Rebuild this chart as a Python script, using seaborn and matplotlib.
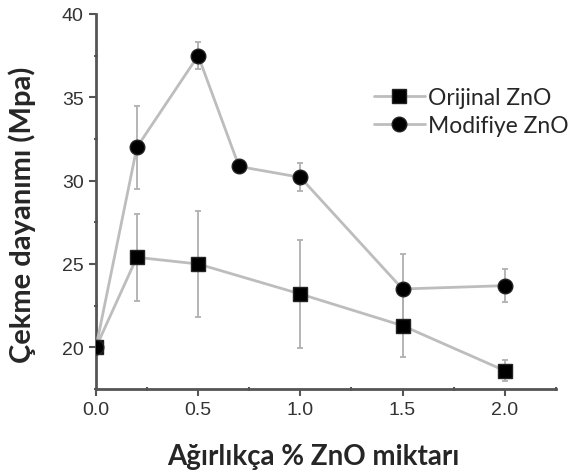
import numpy as np
import pandas as pd
import matplotlib
matplotlib.use("Agg")
import matplotlib.pyplot as plt
import seaborn as sns
from matplotlib.ticker import MultipleLocator

# Data
x_orj = [0.0, 0.2, 0.5, 1.0, 1.5, 2.0]
y_orj = [20.0, 25.4, 25.0, 23.2, 21.3, 18.6]
e_orj = [0.0, 2.6, 3.2, 3.25, 1.9, 0.65]

x_mod = [0.0, 0.2, 0.5, 0.7, 1.0, 1.5, 2.0]
y_mod = [20.0, 32.0, 37.5, 30.85, 30.2, 23.5, 23.7]
e_mod = [0.0, 2.5, 0.8, 0.0, 0.85, 2.1, 1.0]

labels = ["Orijinal ZnO", "Modifiye ZnO"]
xlabel = "Ağırlıkça % ZnO miktarı"
ylabel = "Çekme dayanımı (Mpa)"

sns.set_style("ticks")
plt.rcParams['font.family'] = ['Liberation Sans', 'DejaVu Sans']

fig = plt.figure(figsize=(5.73, 4.77), dpi=100)
ax = fig.add_axes([0.1675, 0.1824, 0.8025, 0.7862])

grey = "#bdbdbd"
ebar = "#b0b0b0"
df_o = pd.DataFrame({"x": x_orj, "y": y_orj})
df_m = pd.DataFrame({"x": x_mod, "y": y_mod})

ax.errorbar(x_orj, y_orj, yerr=e_orj, fmt='none', ecolor=ebar, elinewidth=1.3,
            capsize=2.5, capthick=1.3, zorder=1)
ax.errorbar(x_mod, y_mod, yerr=e_mod, fmt='none', ecolor=ebar, elinewidth=1.3,
            capsize=2.5, capthick=1.3, zorder=1)

sns.lineplot(data=df_o, x="x", y="y", ax=ax, color=grey, linewidth=2,
             marker='s', markersize=9.5, markerfacecolor='black',
             markeredgecolor='#222222', markeredgewidth=1, label=labels[0], zorder=3)
sns.lineplot(data=df_m, x="x", y="y", ax=ax, color=grey, linewidth=2,
             marker='o', markersize=10.5, markerfacecolor='black',
             markeredgecolor='#222222', markeredgewidth=1, label=labels[1], zorder=3)

ax.set_xlim(0, 2.25)
ax.set_ylim(17.5, 40)
ax.set_xticks([0.0, 0.5, 1.0, 1.5, 2.0])
ax.set_yticks([20, 25, 30, 35, 40])
ax.xaxis.set_minor_locator(MultipleLocator(0.25))
ax.yaxis.set_minor_locator(MultipleLocator(2.5))
ax.set_xticklabels(["0.0", "0.5", "1.0", "1.5", "2.0"])

for s in ["top", "right"]:
    ax.spines[s].set_visible(False)
for s in ["left", "bottom"]:
    ax.spines[s].set_color("#555555")
    ax.spines[s].set_linewidth(2)

ax.tick_params(axis='both', which='major', length=5, width=1.5, color="#555555",
               labelsize=14, labelcolor="#333333", direction='out', pad=4)
ax.tick_params(axis='both', which='minor', length=3, width=1.5, color="#555555",
               direction='inout')

lab_font = ['Lato', 'DejaVu Sans']
ax.set_xlabel(xlabel, fontsize=20, fontweight='bold', family=lab_font)
ax.set_ylabel(ylabel, fontsize=21, fontweight='bold', family=lab_font)
ax.xaxis.set_label_coords(0.472, -0.145)
ax.yaxis.set_label_coords(-0.13, 0.467)

leg = ax.legend(loc='upper left', bbox_to_anchor=(0.585, 0.83), frameon=False,
                prop={'family': lab_font, 'size': 16.5},
                handlelength=2.2, handletextpad=0.15, labelspacing=0.3, borderaxespad=0)

fig.savefig("out.png", dpi=100)
